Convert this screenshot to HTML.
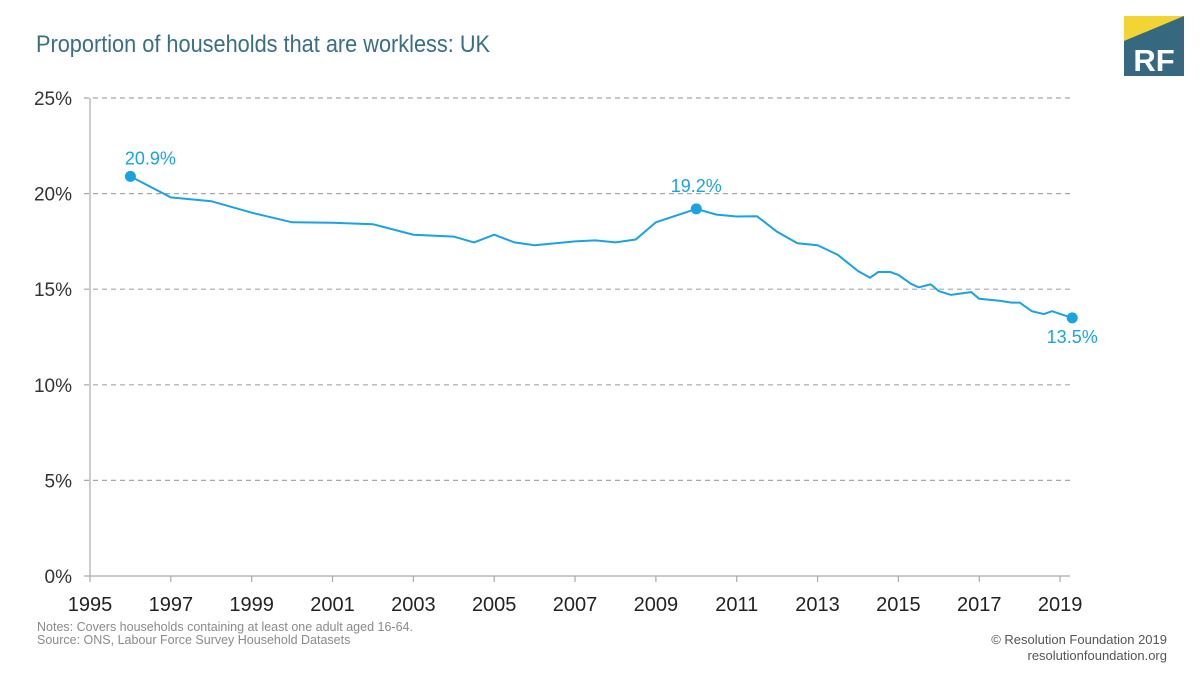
<!DOCTYPE html>
<html><head><meta charset="utf-8"><style>
html,body{margin:0;padding:0;background:#fff;}
svg{display:block;font-family:"Liberation Sans",sans-serif;}
</style></head><body>
<svg id="chart" width="1200" height="675" viewBox="0 0 1200 675" xmlns="http://www.w3.org/2000/svg">
<text x="36" y="52" font-size="24" fill="#3a6f82" textLength="454" lengthAdjust="spacingAndGlyphs">Proportion of households that are workless: UK</text>
<g>
<rect x="1124" y="16" width="60" height="60" fill="#36687f"/>
<polygon points="1124,16 1184,16 1124,41" fill="#f2d535"/>
<text x="1154" y="71" font-size="31" font-weight="bold" fill="#fff" text-anchor="middle">RF</text>
</g>
<g id="grid"></g>
<g id="axes"></g>
<path id="line" fill="none" stroke="#1aa3e0" stroke-width="2"/>
<g id="marks"></g>
<text x="37" y="631" font-size="12.5" fill="#8a8a8a">Notes: Covers households containing at least one adult aged 16-64.</text>
<text x="37" y="644" font-size="12.5" fill="#8a8a8a">Source: ONS, Labour Force Survey Household Datasets</text>
<text x="1167" y="644" font-size="13" fill="#555" text-anchor="end">© Resolution Foundation 2019</text>
<text x="1167" y="660" font-size="13" fill="#555" text-anchor="end">resolutionfoundation.org</text>
</svg>
<script>
const years = [1996,1997,1998,1999,2000,2001,2002,2003,2004,2004.5,2005,2005.5,2006,2007,2007.5,2008,2008.5,2009,2010,2010.5,2011,2011.5,2012,2012.5,2013,2013.5,2014,2014.3,2014.5,2014.8,2015,2015.3,2015.5,2015.8,2016,2016.3,2016.8,2017,2017.5,2017.8,2018,2018.3,2018.6,2018.8,2019.3];
const values = [20.9,19.8,19.6,19.0,18.5,18.48,18.4,17.85,17.75,17.45,17.85,17.45,17.3,17.5,17.55,17.45,17.6,18.5,19.2,18.9,18.8,18.82,18.0,17.4,17.3,16.8,15.95,15.6,15.9,15.9,15.75,15.3,15.1,15.25,14.9,14.7,14.85,14.5,14.4,14.3,14.3,13.85,13.7,13.85,13.5];
const yTicks = [0,5,10,15,20,25];
const xTicks = [1995,1997,1999,2001,2003,2005,2007,2009,2011,2013,2015,2017,2019];
const labelled = [{i:0,t:"20.9%",dx:20,dy:-12},{i:18,t:"19.2%",dx:0,dy:-17},{i:44,t:"13.5%",dx:0,dy:25}];
const NS="http://www.w3.org/2000/svg";
const X = y => 90 + (y-1995)*40.42;
const Y = v => 576 - v*19.12;
function mk(tag, attrs, parent){const e=document.createElementNS(NS,tag);for(const k in attrs)e.setAttribute(k,attrs[k]);parent.appendChild(e);return e;}
const grid=document.getElementById('grid'), axes=document.getElementById('axes'), marks=document.getElementById('marks');
yTicks.forEach(v=>{
  if(v>0){const l=mk('line',{x1:84,x2:1070,y1:Y(v),y2:Y(v),stroke:'#a8a8a8','stroke-width':1.2,'stroke-dasharray':'5,4'},grid);
  
  }
  const t=mk('text',{x:72,y:Y(v)+7,'font-size':19,fill:'#333','text-anchor':'end'},axes);
  t.textContent=v+'%';
  
  
});
const ya=mk('line',{x1:90,x2:90,y1:Y(25),y2:576,stroke:'#aaa','stroke-width':1.2},axes);


const xa=mk('line',{x1:84,x2:1070,y1:576,y2:576,stroke:'#aaa','stroke-width':1.2},axes);


xTicks.forEach(y=>{
  mk('line',{x1:X(y),x2:X(y),y1:576,y2:582,stroke:'#aaa','stroke-width':1.2},axes);
  const t=mk('text',{x:X(y),y:611,'font-size':20,fill:'#222','text-anchor':'middle'},axes);
  t.textContent=y;
  
  
});
document.getElementById('line').setAttribute('d',years.map((y,i)=>(i?'L':'M')+X(y).toFixed(1)+','+Y(values[i]).toFixed(1)).join(''));
labelled.forEach(p=>{
  const c=mk('circle',{cx:X(years[p.i]),cy:Y(values[p.i]),r:5.5,fill:'#1aa3e0'},marks);
  
  
  const t=mk('text',{x:X(years[p.i])+p.dx,y:Y(values[p.i])+p.dy,'font-size':18,fill:'#1aa3e0','text-anchor':'middle'},marks);
  t.textContent=p.t;
  
  
});
</script>
</body></html>
